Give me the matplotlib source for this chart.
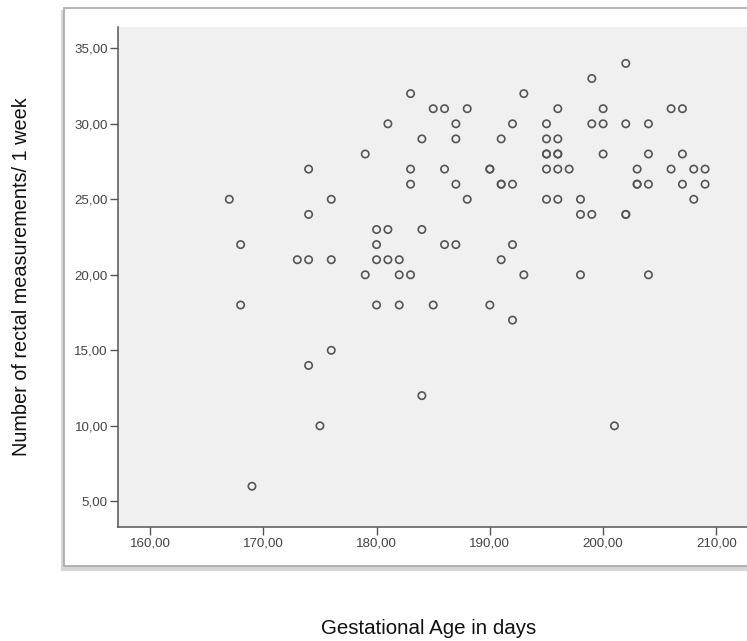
import matplotlib.pyplot as plt
from matplotlib.patches import Rectangle

# gestational age (days) and number of rectal measurements per week
gest_age = [167, 168, 168, 169, 173,
            174, 174, 174, 174, 175,
            176, 176, 176, 179, 179,
            180, 180, 180, 180, 181, 181, 181,
            182, 182, 182, 183, 183, 183, 183,
            184, 184, 184, 185, 185, 186, 186, 186,
            187, 187, 187, 187, 188, 188,
            190, 190, 190, 191, 191, 191, 191,
            192, 192, 192, 192, 193, 193,
            195, 195, 195, 195, 195, 195,
            196, 196, 196, 196, 196, 196, 197,
            198, 198, 198, 199, 199, 199,
            200, 200, 200, 201, 202, 202, 202, 202,
            203, 203, 203, 204, 204, 204, 204,
            206, 206, 207, 207, 207, 208, 208, 209, 209]
rectal_n = [25, 22, 18, 6, 21,
            27, 24, 21, 14, 10,
            25, 21, 15, 28, 20,
            23, 22, 21, 18, 30, 23, 21,
            21, 20, 18, 32, 27, 26, 20,
            29, 23, 12, 31, 18, 31, 27, 22,
            30, 29, 26, 22, 31, 25,
            27, 27, 18, 29, 26, 26, 21,
            30, 26, 22, 17, 32, 20,
            30, 29, 28, 28, 27, 25,
            31, 29, 28, 28, 27, 25, 27,
            25, 24, 20, 33, 30, 24,
            31, 30, 28, 10, 34, 30, 24, 24,
            27, 26, 26, 30, 28, 26, 20,
            31, 27, 31, 28, 26, 27, 25, 27, 26]

x_ticks = [160, 170, 180, 190, 200, 210]
y_ticks = [5, 10, 15, 20, 25, 30, 35]

plt.rcParams['font.family'] = ['Liberation Sans', 'DejaVu Sans']

W, H = 747, 641
fig = plt.figure(figsize=(W / 100, H / 100), dpi=100)

# white chart frame with a soft shadow (SPSS style output box)
fig.patches.append(Rectangle((61 / W, 1 - 571 / H), 1.0, (571 - 10) / H,
                             transform=fig.transFigure, facecolor='#d6d6d6',
                             edgecolor='none', zorder=0))
fig.patches.append(Rectangle((64 / W, 1 - 566 / H), 1.0, (566 - 7.5) / H,
                             transform=fig.transFigure, facecolor='white',
                             edgecolor='#a8a8a8', linewidth=1.2, zorder=1))

ax = fig.add_axes([118.3 / W, 1 - 526.7 / H, 1 - 118.3 / W, 500 / H])
ax.set_zorder(5)
ax.set_facecolor('#f0f0f0')
ax.scatter(gest_age, rectal_n, s=28, facecolors='none', edgecolors='#555555',
           linewidths=1.2, zorder=3)

ax.set_xlim(157.2, 212.7)
ax.set_ylim(3.32, 36.43)
ax.set_xticks(x_ticks)
ax.set_xticklabels([f'{v},00' for v in x_ticks])
ax.set_yticks(y_ticks)
ax.set_yticklabels([f'{v},00' for v in y_ticks])

for side in ['top', 'right']:
    ax.spines[side].set_visible(False)
for side in ['left', 'bottom']:
    ax.spines[side].set_color('#555555')
    ax.spines[side].set_linewidth(1.1)
ax.tick_params(direction='out', length=6, width=1.0, color='#555555',
               labelcolor='#444444', labelsize=9.6, pad=1.5)

fig.text(429 / W, 1 - 628 / H, 'Gestational Age in days', fontsize=14.8,
         ha='center', va='center', color='#111111')
fig.text(22 / W, 1 - 277 / H, 'Number of rectal measurements/ 1 week',
         fontsize=14.3, rotation=90, ha='center', va='center', color='#111111')

fig.savefig('out.png', dpi=100)
